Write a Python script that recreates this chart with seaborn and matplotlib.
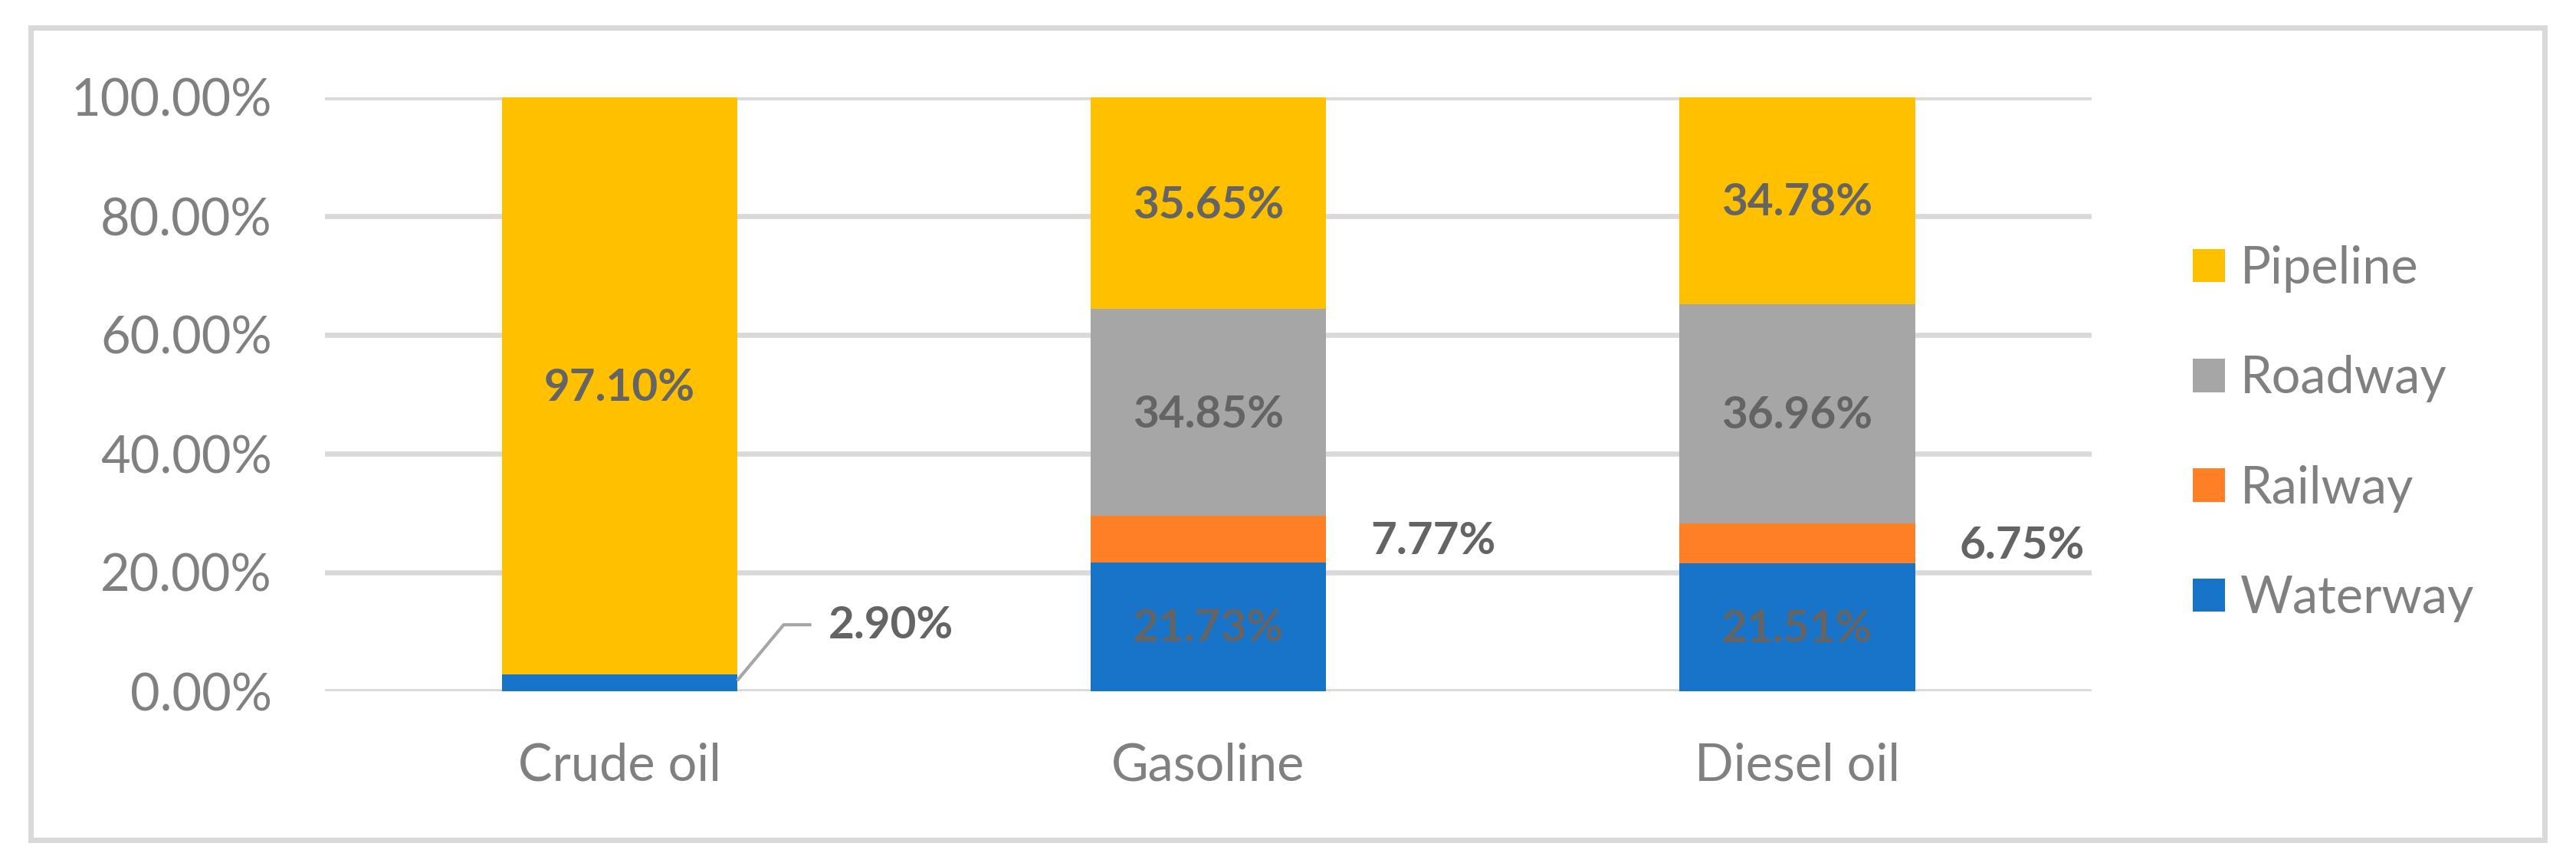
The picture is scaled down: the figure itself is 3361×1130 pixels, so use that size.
import matplotlib
matplotlib.use("Agg")
import matplotlib.pyplot as plt
import seaborn as sns
import numpy as np
import pandas as pd
from matplotlib.patches import Patch, Rectangle

# ---------------- data ----------------
categories = ["Crude oil", "Gasoline", "Diesel oil"]
waterway = [2.90, 21.73, 21.51]
railway = [0.0, 7.77, 6.75]
roadway = [0.0, 34.85, 36.96]
pipeline = [97.10, 35.65, 34.78]
yticks = [0, 20, 40, 60, 80, 100]

series_names = ["Waterway", "Railway", "Roadway", "Pipeline"]
series_vals = [waterway, railway, roadway, pipeline]
colors = {"Waterway": "#1874C8", "Railway": "#FF7F27",
          "Roadway": "#A6A6A6", "Pipeline": "#FFC000"}

# ---------------- style ----------------
sns.set_theme(style="white")
plt.rcParams["font.family"] = ["Lato", "DejaVu Sans"]

W, H, DPI = 3361, 1130, 200
fig = plt.figure(figsize=(W / DPI, H / DPI), dpi=DPI)
fig.patch.set_facecolor("white")

ax_left, ax_right = 424 / W, 2729 / W
ax_bottom, ax_top = 1 - 902 / H, 1 - 127 / H
ax = fig.add_axes([ax_left, ax_bottom, ax_right - ax_left, ax_top - ax_bottom])

# stacked bars: draw cumulative totals from top down so lower ones overlay
df = pd.DataFrame({"cat": categories})
cum = np.zeros(len(categories))
cums = {}
for name, vals in zip(series_names, series_vals):
    bottoms = cum.copy()
    cum = cum + np.array(vals)
    cums[name] = (bottoms, cum.copy())

bar_w = 0.40
for name in reversed(series_names):
    df["top"] = cums[name][1]
    sns.barplot(data=df, x="cat", y="top", color=colors[name], saturation=1,
                width=bar_w, linewidth=0, ax=ax, zorder=2)

ax.set_xlim(-0.5, len(categories) - 0.5)
ax.set_ylim(0, 100)
ax.set_yticks(yticks)
ax.set_yticklabels([f"{v:.2f}%" for v in yticks])
ax.set_xlabel("")
ax.set_ylabel("")
for s in ax.spines.values():
    s.set_visible(False)
ax.grid(axis="y", color="#D9D9D9", linewidth=2.4)
ax.grid(axis="x", visible=False)
ax.set_axisbelow(True)
ax.tick_params(axis="y", length=0, pad=25, labelsize=24, labelcolor="#808080")
ax.tick_params(axis="x", length=0, pad=24, labelsize=24, labelcolor="#808080")

# ---------------- data labels ----------------
lbl_kw = dict(fontsize=21, fontweight="bold", color="#646464", va="center")
for i, cat in enumerate(categories):
    for name, vals in zip(series_names, series_vals):
        v = vals[i]
        if v <= 0:
            continue
        b, t = cums[name][0][i], cums[name][1][i]
        mid = (b + t) / 2
        txt = f"{v:.2f}%"
        if v < 5:
            # small slice: leader line to the right
            x0 = i + bar_w / 2
            y0 = mid + 0.35
            x1, y1 = i + 0.279, 11.2
            x2 = i + 0.326
            ax.plot([x0, x1, x2], [y0, y1, y1], color="#A6A6A6", lw=1.5,
                    solid_capstyle="butt", zorder=3, clip_on=False)
            ax.text(i + 0.355, y1 - 0.2, txt, ha="left", **lbl_kw)
        elif v < 10:
            ax.text(i + bar_w / 2 + 0.075, mid - 0.4, txt, ha="left", **lbl_kw)
        else:
            ax.text(i, mid - 0.4, txt, ha="center", **lbl_kw)

# ---------------- legend ----------------
handles = [Patch(facecolor=colors[n], edgecolor="none", label=n)
           for n in reversed(series_names)]
leg = fig.legend(handles=handles, loc="center left",
                 bbox_to_anchor=(2861 / W, 1 - 566 / H),
                 frameon=False, fontsize=24, labelcolor="#808080",
                 handlelength=0.63, handleheight=0.63, handletextpad=0.3,
                 labelspacing=1.22, borderpad=0, borderaxespad=0)

# ---------------- outer frame ----------------
fig.patches.append(Rectangle((40 / W, 1 - 1096 / H), (3320 - 40) / W,
                             (1096 - 36) / H, transform=fig.transFigure,
                             fill=False, edgecolor="#D9D9D9", linewidth=2.5,
                             zorder=0))

fig.savefig("out.png", dpi=DPI, facecolor="white")
